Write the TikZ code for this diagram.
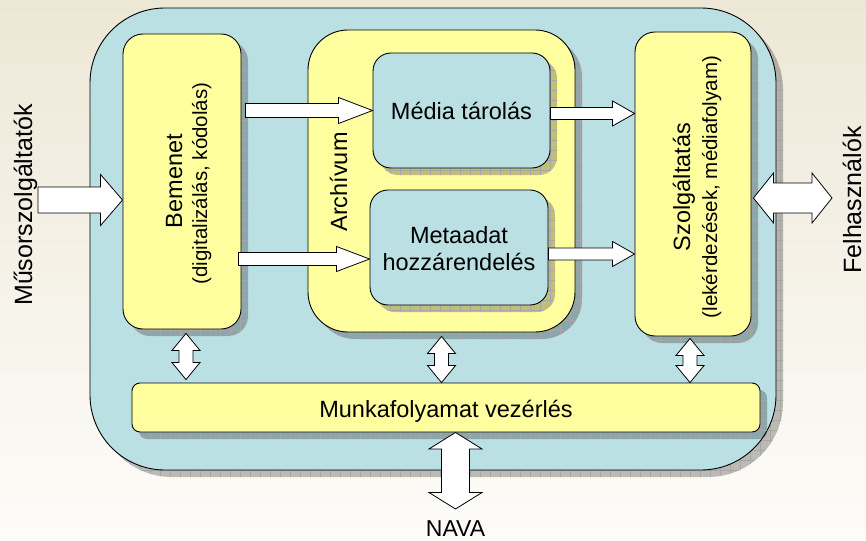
\documentclass[tikz,border=0pt]{standalone}
\usepackage{fontspec}
\setmainfont{Liberation Sans}
\usetikzlibrary{calc,shadows,patterns.meta}
\definecolor{bgtop}{RGB}{237,231,214}
\definecolor{bgbot}{RGB}{253,252,249}
\definecolor{boxblue}{RGB}{186,224,227}
\definecolor{boxyellow}{RGB}{255,255,160}

\tikzset{
  sh/.style={
    general shadow={shadow xshift=7pt,shadow yshift=-7pt,fill=black,fill opacity=0.25},
    general shadow={shadow xshift=7pt,shadow yshift=-7pt,pattern={Lines[angle=0,distance=10pt,line width=0.4pt]},pattern color=black!35,fill opacity=1},
    general shadow={shadow xshift=7pt,shadow yshift=-7pt,pattern={Lines[angle=90,distance=10pt,line width=0.4pt]},pattern color=black!35,fill opacity=1}},
  panel/.style={draw=black,line width=0.9pt,sh,inner sep=0pt},
  bluebox/.style={panel,fill=boxblue},
  yellowbox/.style={panel,fill=boxyellow},
  barrow/.style={draw=black,line width=0.8pt,fill=white,line join=miter},
  lbl/.style={inner sep=0pt,anchor=base,text=black},
  bigf/.style={font=\fontsize{23.5}{27}\selectfont},
  subf/.style={font=\fontsize{20.5}{24}\selectfont},
  sidef/.style={font=\fontsize{25}{30}\selectfont},
  navaf/.style={font=\fontsize{23}{27}\selectfont},
}

% single right-pointing block arrow: tail, tip, shaft half-width, head half-width, head length
\newcommand\blkR[5]{%
  \draw[barrow] let \p1=(#1), \p2=(#2) in
    (\x1,{\y2+#3pt}) -- ({\x2-#5pt},{\y2+#3pt}) -- ({\x2-#5pt},{\y2+#4pt}) -- (\x2,\y2)
    -- ({\x2-#5pt},{\y2-#4pt}) -- ({\x2-#5pt},{\y2-#3pt}) -- (\x1,{\y2-#3pt}) -- cycle;}
% horizontal double block arrow: left tip, right tip
\newcommand\blkH[5]{%
  \draw[barrow] let \p1=(#1), \p2=(#2) in
    (\x1,\y1) -- ({\x1+#5pt},{\y1+#4pt}) -- ({\x1+#5pt},{\y1+#3pt}) -- ({\x2-#5pt},{\y1+#3pt})
    -- ({\x2-#5pt},{\y1+#4pt}) -- (\x2,\y1) -- ({\x2-#5pt},{\y1-#4pt}) -- ({\x2-#5pt},{\y1-#3pt})
    -- ({\x1+#5pt},{\y1-#3pt}) -- ({\x1+#5pt},{\y1-#4pt}) -- cycle;}
% vertical double block arrow: top tip, bottom tip
\newcommand\blkV[5]{%
  \draw[barrow] let \p1=(#1), \p2=(#2) in
    (\x1,\y1) -- ({\x1+#4pt},{\y1-#5pt}) -- ({\x1+#3pt},{\y1-#5pt}) -- ({\x1+#3pt},{\y2+#5pt})
    -- ({\x1+#4pt},{\y2+#5pt}) -- (\x1,\y2) -- ({\x1-#4pt},{\y2+#5pt}) -- ({\x1-#3pt},{\y2+#5pt})
    -- ({\x1-#3pt},{\y1-#5pt}) -- ({\x1-#4pt},{\y1-#5pt}) -- cycle;}

\begin{document}
\begin{tikzpicture}[x=1pt,y=-1pt]
\useasboundingbox (0,0) rectangle (866,540);
\shade[top color=bgtop,bottom color=bgbot] (0,0) rectangle (866,540);

% boxes
\node[bluebox,rounded corners=75pt,minimum width=686pt,minimum height=462pt] (outer) at (433,239) {};
\node[yellowbox,rounded corners=20pt,minimum width=118pt,minimum height=295pt] (bem) at (182,181.5) {};
\node[yellowbox,rounded corners=40pt,minimum width=267pt,minimum height=302pt] (arch) at (441.5,181) {};
\node[bluebox,rounded corners=18pt,minimum width=177pt,minimum height=115pt] (media) at (461.5,110.5) {};
\node[bluebox,rounded corners=18pt,minimum width=178pt,minimum height=115pt] (meta) at (459,247.5) {};
\node[yellowbox,rounded corners=20pt,minimum width=116pt,minimum height=304pt] (szolg) at (693,184) {};
\node[yellowbox,rounded corners=8pt,minimum width=628pt,minimum height=49pt] (wf) at (446,407.5) {};

% free arrow ends
\coordinate (inL) at (38,200);
\coordinate (felR) at (832,198);
\coordinate (navaB) at (455.5,509);

% arrows
\blkR{inL}{bem.west |- inL}{13}{25.5}{22}
\blkR{$(bem.east)+(4,0)$}{media.west}{7}{13}{34}
\blkR{$(bem.east)+(-3,0)$}{$(meta.west)+(0,11.5)$}{6.5}{12.5}{33}
\blkR{media.east}{$(szolg.west |- media.east)+(0,3)$}{6}{12.5}{22}
\blkR{meta.east}{$(szolg.west |- meta.east)+(0,6.5)$}{6}{12.5}{22}
\blkH{$(szolg.east)+(2,14)$}{felR}{15}{25}{20}
\blkV{$(bem.south)+(4,4)$}{$(bem.south |- wf.north)+(4,-3)$}{7}{14}{17}
\blkV{$(arch.south)+(0,4)$}{arch.south |- wf.north}{7}{14}{17}
\blkV{$(szolg.south)+(-3,2)$}{$(szolg.south |- wf.north)+(-3,0)$}{7}{14}{17}
\blkV{$(wf.south)+(9.5,0)$}{navaB}{14}{26.5}{16.5}

% texts
\node[lbl,sidef,rotate=90] (tMus) at (32,205) {Műsorszolgáltatók};
\node[lbl,sidef,rotate=90] (tFel) at (861,200) {Felhasználók};
\node[lbl,bigf,rotate=90] (tBem) at (182,181) {Bemenet};
\node[lbl,subf,rotate=90] (tBem2) at (207,183.5) {(digitalizálás, kódolás)};
\node[lbl,bigf,rotate=90] (tArch) at (347,182) {Archívum};
\node[lbl,bigf] (tMed) at (461.5,120) {Média tárolás};
\node[lbl,bigf] (tMeta1) at (459,243) {Metaadat};
\node[lbl,bigf] (tMeta2) at (459,270) {hozzárendelés};
\node[lbl,bigf,rotate=90] (tSz) at (690,187) {Szolgáltatás};
\node[lbl,subf,rotate=90] (tSz2) at (717,187) {(lekérdezések, médiafolyam)};
\node[lbl,bigf] (tWf) at (446,417) {Munkafolyamat vezérlés};
\node[lbl,navaf] (tNava) at (455.5,536) {NAVA};
\end{tikzpicture}
\end{document}
